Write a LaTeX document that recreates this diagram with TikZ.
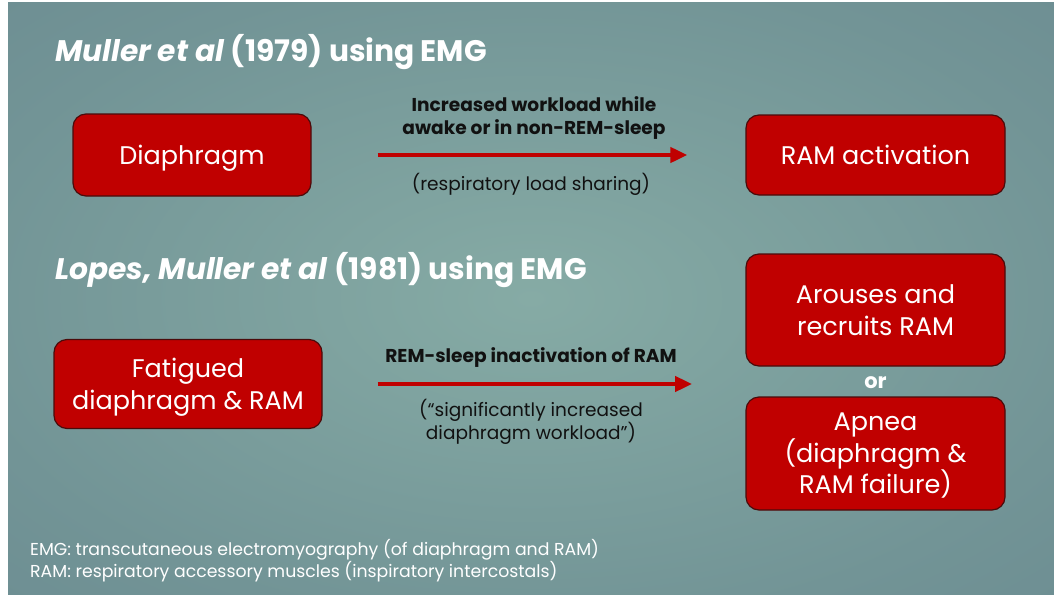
\documentclass[tikz,border=0pt]{standalone}
\usepackage{fontspec}
\setmainfont{Poppins}
\usetikzlibrary{arrows.meta}
\definecolor{boxred}{HTML}{C00000}
\definecolor{boxline}{HTML}{4A0B0B}
\definecolor{bgin}{HTML}{86ABA5}
\definecolor{bgmid}{HTML}{729496}
\definecolor{bgout}{HTML}{5C7886}
\definecolor{labelink}{HTML}{111111}
\pgfdeclareradialshading{slidebg}{\pgfpoint{0bp}{0bp}}{color(0bp)=(bgin); color(28bp)=(bgmid); color(71bp)=(bgout)}
\tikzset{
  box/.style={draw=boxline, line width=1.2pt, fill=boxred, rounded corners=13pt,
    text=white, align=center, inner sep=0pt, text depth=0pt,
    font=\fontsize{25.5}{31.5}\selectfont},
  title/.style={anchor=base west, text=white, inner sep=0pt,
    font=\fontsize{29.7}{34}\selectfont\bfseries},
  arr/.style={draw=boxred, line width=4pt, -{Triangle[length=17pt,width=15pt]}},
  label/.style={text=labelink, align=center, inner sep=0pt,
    font=\fontsize{18.6}{23}\selectfont\bfseries},
  note/.style={text=labelink, align=center, inner sep=0pt,
    font=\fontsize{18.5}{23}\selectfont},
  foot/.style={anchor=base west, text=white, align=left, inner sep=0pt,
    font=\fontsize{17.3}{22}\selectfont},
}
\begin{document}
\begin{tikzpicture}[x=1pt,y=-1pt]
\useasboundingbox (0,0) rectangle (1054,594);
\fill[white] (0,0) rectangle (1054,594);
\shade[shading=slidebg] (8,3) rectangle (1054,594);

% headings
\node[title] (t1) at (55,61) {\textit{Muller et al} (1979) using EMG};
\node[title] (t2) at (55,279) {\textit{Lopes, Muller et al} (1981) using EMG};

% first study
\node[box, minimum width=238pt, minimum height=82pt] (diaph) at (192,155) {Diaphragm};
\node[box, minimum width=259pt, minimum height=80pt] (ramact) at (875.5,155) {RAM activation};
\draw[arr, shorten <=66pt, shorten >=58pt] (diaph.east) -- (ramact.west);
\node[label] (l1) at (534,118) {Increased workload while\\awake or in non-REM-sleep};
\node[note] (n1) at (531,184) {(respiratory load sharing)};

% second study
\node[box, minimum width=268pt, minimum height=89pt] (fatig) at (188,384) {Fatigued\\diaphragm \& RAM};
\node[box, minimum width=259pt, minimum height=112pt] (arouse) at (875.5,310) {Arouses and\\recruits RAM};
\node[text=white, inner sep=0pt, font=\fontsize{21}{24}\selectfont\bfseries] (or) at (875.5,383) {or};
\node[box, minimum width=259pt, minimum height=113pt] (apnea) at (875.5,453.5) {Apnea\\(diaphragm \&\\RAM failure)};
\draw[arr, shorten <=55pt, shorten >=172pt] (fatig.east) -- (or.west |- fatig.east);
\node[label] (l2) at (531,358) {REM-sleep inactivation of RAM};
\node[note] (n2) at (531,422) {(“significantly increased\\diaphragm workload”)};

% abbreviations
\node[foot] (f1) at (30,555) {EMG: transcutaneous electromyography (of diaphragm and RAM)};
\node[foot] (f2) at (30,577) {RAM: respiratory accessory muscles (inspiratory intercostals)};
\end{tikzpicture}
\end{document}
